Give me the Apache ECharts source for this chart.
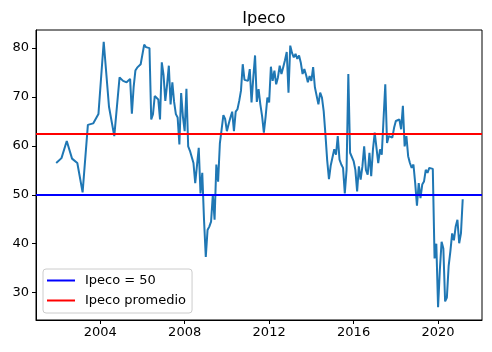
<!DOCTYPE html>
<html><head><meta charset="utf-8">
<script src="https://cdn.jsdelivr.net/npm/echarts/dist/echarts.min.js"></script>
<style>html,body{margin:0;padding:0;background:#fff}#c{width:492px;height:352px}</style>
</head><body><div id="c"></div>
<script>
// Early (quarterly) observations
const earlyDates = ['2001-12','2002-03','2002-06','2002-09','2002-12','2003-03','2003-06','2003-09','2003-12','2004-03','2004-06','2004-09','2004-12'];
const earlyValues = [56.5,57.5,61.0,57.4,56.5,50.5,64.3,64.6,66.5,81.3,68.0,62.0,74.0];
// Monthly observations from 2005-01
const monthlyStart = '2005-01';
const values2005_2009 = [
  73.6,73.3,73.2,73.0,72.8,73.7,66.6,72.0,75.4,76.0,76.4,76.7,
  77.0,80.7,80.2,80.0,80.0,65.4,66.5,70.2,70.0,69.5,65.4,77.1,
  74.5,69.2,72.5,76.4,68.5,73.0,69.0,66.5,65.8,60.3,70.8,66.0,
  63.0,71.7,59.9,59.0,58.6,56.5,52.4,56.0,59.6,50.3,54.5,44.9,
  37.3,42.8,43.5,44.5,50.0,44.9,56.2,52.7,60.5,63.4,66.3,65.5
];
const values2010_2014 = [
  63.0,64.5,65.8,67.0,63.0,67.0,67.5,69.2,71.3,76.7,73.5,73.3,
  73.3,75.7,68.9,74.0,78.5,69.0,71.6,68.5,66.1,62.7,66.0,69.9,
  68.9,76.2,73.3,75.4,72.6,74.0,76.4,74.7,76.1,77.5,79.2,70.9,
  80.5,79.0,78.1,78.8,77.8,78.5,77.0,74.7,75.7,74.5,73.0,74.3,
  73.3,76.1,72.0,71.6,68.5,70.9,69.9,67.1,62.3,57.0,53.2,56.0
];
const values2015_2019 = [
  55.8,59.3,58.2,62.0,57.2,56.2,55.5,50.3,55.1,74.7,58.6,58.9,
  56.9,55.1,50.7,55.8,53.1,55.8,59.9,55.1,54.1,58.6,53.8,59.3,
  62.7,63.0,56.5,59.3,58.2,58.5,72.6,60.6,62.0,62.3,61.7,63.7,
  65.1,64.8,65.4,63.4,68.2,59.9,62.0,57.9,56.5,55.5,56.2,52.4,
  47.8,52.4,49.3,52.1,52.7,55.1,54.5,55.5,55.1,55.3,37.0,40.0
];
const values2020_2021 = [
  27.0,34.6,40.4,39.0,28.2,29.0,35.4,38.5,42.1,40.7,43.5,44.9,
  40.1,42.1,49.1
];
const threshold = 50;
const promedio = 62.4;
const xTicks = [2004, 2008, 2012, 2016, 2020];
const yTicks = [30, 40, 50, 60, 70, 80];

function toYear(s) { const [y, m] = s.split('-').map(Number); return y + (m - 1) / 12; }
const monthly = [].concat(values2005_2009, values2010_2014, values2015_2019, values2020_2021);
const series = [];
earlyDates.forEach((d, i) => series.push([toYear(d), earlyValues[i]]));
const [sy, sm] = monthlyStart.split('-').map(Number);
monthly.forEach((v, i) => {
  const t = sm - 1 + i;
  series.push([sy + Math.floor(t / 12) + (t % 12) / 12, v]);
});

const font = 'DejaVu Sans';
const chart = echarts.init(document.getElementById('c'), null, {renderer: 'canvas'});
chart.setOption({
  animation: false,
  backgroundColor: '#fff',
  title: { text: 'Ipeco', left: 259, top: 6, textAlign: 'center',
    textStyle: { fontFamily: font, fontSize: 16, fontWeight: 'normal', color: '#000' } },
  grid: { left: 36, right: 10, top: 30, bottom: 32, show: true, borderColor: '#000', borderWidth: 1 },
  legend: {
    orient: 'vertical', left: 43, top: 269,
    data: ['Ipeco = 50', 'Ipeco promedio'],
    icon: 'rect', itemWidth: 28, itemHeight: 2, itemGap: 7,
    padding: [5, 6, 6, 4],
    backgroundColor: 'rgba(255,255,255,0.8)', borderColor: '#cccccc', borderWidth: 1, borderRadius: 3,
    textStyle: { fontFamily: font, fontSize: 13, color: '#000', padding: [0, 0, 0, 5] }
  },
  xAxis: {
    type: 'value', min: 2000.96, max: 2022.08,
    splitLine: { show: false },
    axisLine: { show: true, lineStyle: { color: '#000', width: 1 } },
    axisTick: { show: true, length: 4, lineStyle: { color: '#000' }, customValues: xTicks },
    axisLabel: { customValues: xTicks, fontFamily: font, fontSize: 13, color: '#000', margin: 6,
      formatter: v => String(Math.round(v)) }
  },
  yAxis: {
    type: 'value', min: 24.4, max: 83.7,
    splitLine: { show: false },
    axisLine: { show: true, lineStyle: { color: '#000', width: 1 } },
    axisTick: { show: true, length: 4, lineStyle: { color: '#000' }, customValues: yTicks },
    axisLabel: { customValues: yTicks, fontFamily: font, fontSize: 13, color: '#000', margin: 7,
      formatter: v => String(Math.round(v)) }
  },
  series: [
    { type: 'line', name: 'Ipeco', data: series, showSymbol: false, symbol: 'none',
      lineStyle: { color: '#1f77b4', width: 2 }, itemStyle: { color: '#1f77b4' }, z: 2 },
    { type: 'line', name: 'Ipeco = 50', data: [], color: '#0000ff', z: 3,
      markLine: { silent: true, symbol: 'none', label: { show: false },
        lineStyle: { color: '#0000ff', width: 2, type: 'solid' }, data: [{ yAxis: threshold }] } },
    { type: 'line', name: 'Ipeco promedio', data: [], color: '#ff0000', z: 4,
      markLine: { silent: true, symbol: 'none', label: { show: false },
        lineStyle: { color: '#ff0000', width: 2, type: 'solid' }, data: [{ yAxis: promedio }] } }
  ]
});
</script></body></html>
